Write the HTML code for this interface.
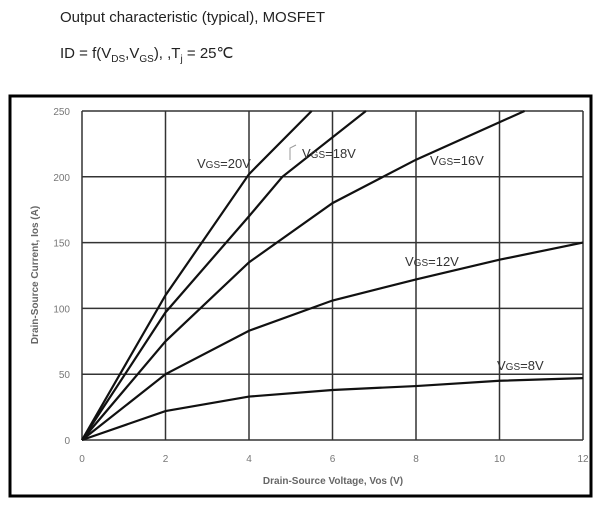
<!DOCTYPE html>
<html><head><meta charset="utf-8"><style>
body{margin:0;background:#fff;width:600px;height:506px;overflow:hidden;font-family:"Liberation Sans",sans-serif}
.t{position:absolute;left:60px;font-size:15px;color:#222}
</style></head><body>
<div class="t" style="top:9px">Output characteristic (typical), MOSFET</div>
<div class="t" style="top:44px">ID = f(V<sub style="font-size:10px">DS</sub>,V<sub style="font-size:10px">GS</sub>), ,T<sub style="font-size:10px">j</sub> = 25℃</div>
<svg id="c" width="600" height="506" style="position:absolute;left:0;top:0">
<rect x="10" y="96" width="581" height="400" fill="none" stroke="#000" stroke-width="3"/>
</svg>
<script>
const xTicks=[0,2,4,6,8,10,12];
const yTicks=[0,50,100,150,200,250];
const vds20=[0,2,4,5.5];const id20=[0,110,202,250];
const vds18=[0,2,4,4.8,6.8];const id18=[0,97,170,200,250];
const vds16=[0,2,4,6,8,10.6];const id16=[0,75,135,180,213,250];
const vds12=[0,2,4,6,8,10,12];const id12=[0,50,83,106,122,137,150];
const vds8=[0,2,4,6,8,10,12];const id8=[0,22,33,38,41,45,47];
const seriesNames=["20V","18V","16V","12V","8V"];
const NS="http://www.w3.org/2000/svg",svg=document.getElementById('c');
const X=v=>82+v*(583-82)/12, Y=v=>440-v*(440-111)/250;
function mk(t,a){const e=document.createElementNS(NS,t);for(const k in a)e.setAttribute(k,a[k]);svg.appendChild(e);return e;}
xTicks.forEach(v=>{const l=mk('line',{x1:X(v),x2:X(v),y1:Y(0),y2:Y(250),stroke:'#333','stroke-width':1.5});


const t=mk('text',{x:X(v),y:462,'font-size':10,fill:'#777','text-anchor':'middle'});t.textContent=v;

});
yTicks.forEach(v=>{const l=mk('line',{x1:X(0),x2:X(12),y1:Y(v),y2:Y(v),stroke:'#333','stroke-width':1.5});


const t=mk('text',{x:70,y:Y(v)+4,'font-size':10,fill:'#777','text-anchor':'end'});t.textContent=v;

});
const xt=mk('text',{x:333,y:484,'font-size':10,'font-weight':'bold',fill:'#666','text-anchor':'middle'});xt.textContent='Drain-Source Voltage, Vos (V)';


const yt=mk('text',{x:0,y:0,'font-size':10,'font-weight':'bold',fill:'#666','text-anchor':'middle',transform:'translate(38,275) rotate(-90)'});yt.textContent='Drain-Source Current, Ios (A)';


const data=[[vds20,id20],[vds18,id18],[vds16,id16],[vds12,id12],[vds8,id8]];
data.forEach((s,i)=>{const d=s[0].map((v,j)=>(j?'L':'M')+X(v)+','+Y(s[1][j])).join(' ');
const p=mk('path',{d:d,fill:'none',stroke:'#111','stroke-width':2.2});

});
const labs=[[197,168,'20V'],[302,158,'18V'],[430,165,'16V'],[405,266,'12V'],[497,370,'8V']];
labs.forEach(l=>{const t=mk('text',{x:l[0],y:l[1],'font-size':13,fill:'#333'});
t.innerHTML='V<tspan font-size="10">GS</tspan>='+l[2];

});
const b=mk('path',{d:'M290,160 L290,148 L296,145',fill:'none',stroke:'#999'});


</script>
</body></html>
